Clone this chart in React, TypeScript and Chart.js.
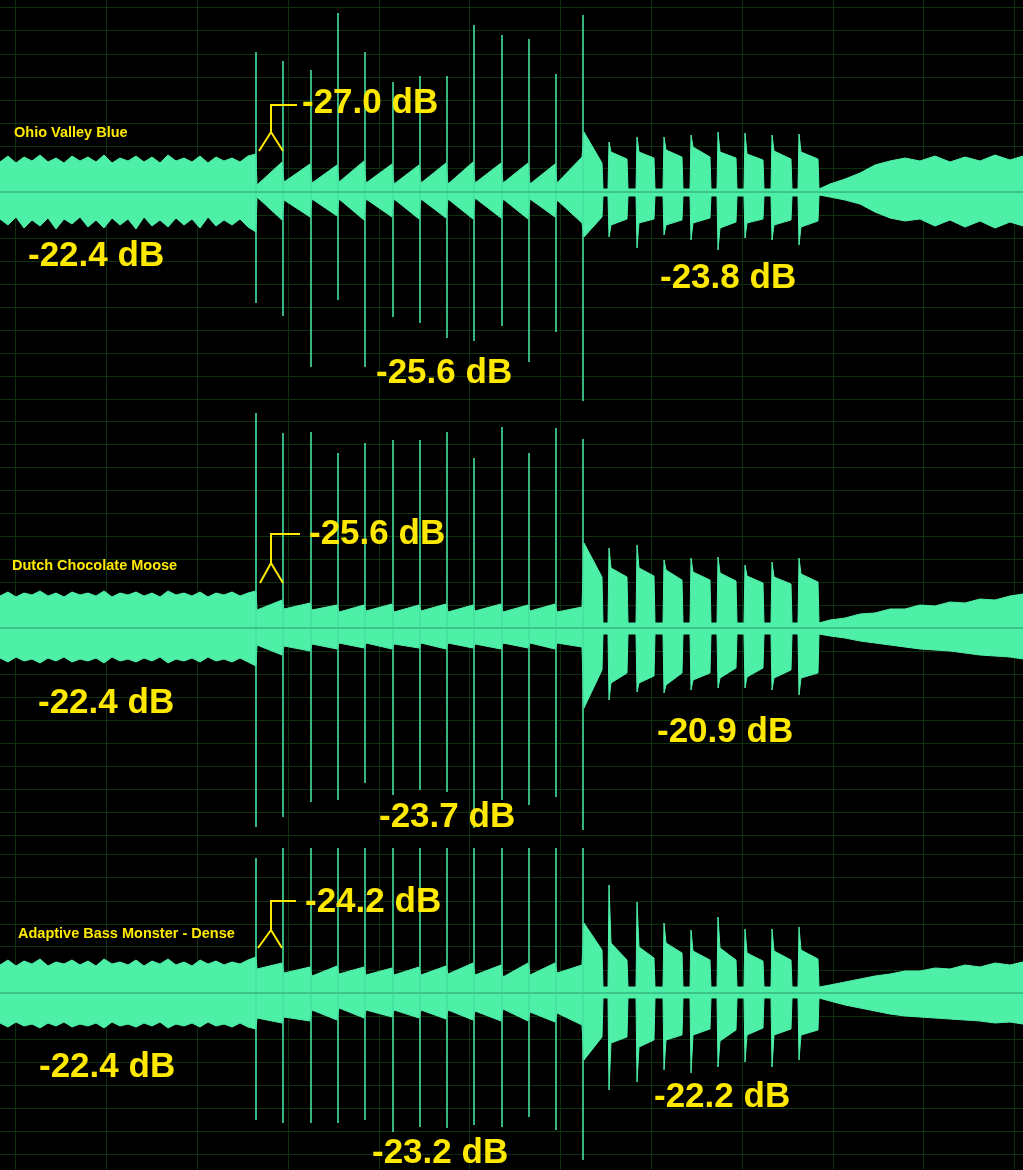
import { useEffect, useRef } from "react";
import { Chart, registerables } from "chart.js";

Chart.register(...registerables);

// ---------- shared time axis (x = sample position) ----------
const gridX = [15, 106, 197, 288, 379, 469, 560, 651, 742, 833, 923, 1014];
const ampGridStep = 23;
const introX = [0, 8, 16, 24, 32, 40, 48, 56, 64, 72, 80, 88, 96, 104, 112, 120, 128, 136, 144, 152, 160, 168, 176, 184, 192, 200, 208, 216, 224, 232, 240, 248, 256];
const spikeX = [256, 283, 311, 338, 365, 393, 420, 447, 474, 502, 529, 556, 583];
const tailEndX = 602;
const burstStart = [609, 637, 664, 691, 718, 745, 772, 799];
const burstEnd = [628, 655, 683, 711, 737, 764, 792, 819];
const fadeX = [819, 830, 845, 860, 875, 890, 905, 920, 935, 950, 965, 980, 995, 1010, 1023];

// ---------- Panel 1: Ohio Valley Blue ----------
const p1IntroTop = [30, 36, 29, 35, 31, 37, 30, 34, 29, 36, 31, 35, 30, 37, 29, 34, 31, 36, 30, 35, 29, 37, 31, 34, 30, 36, 29, 35, 31, 34, 30, 36, 38];
const p1IntroBot = [-27, -33, -25, -36, -28, -34, -26, -37, -27, -32, -25, -35, -28, -36, -26, -33, -27, -37, -25, -34, -28, -35, -26, -33, -27, -36, -25, -34, -28, -33, -27, -35, -40];
const p1Spikes = [[140, -111], [131, -124], [122, -175], [179, -108], [140, -175], [110, -125], [116, -131], [116, -146], [167, -149], [157, -134], [153, -170], [118, -140], [177, -210]];
const p1Segments = [[7, 30, -5, -28], [10, 28, -8, -25], [9, 27, -7, -24], [10, 31, -7, -28], [9, 28, -7, -25], [8, 27, -7, -27], [9, 29, -7, -26], [8, 30, -7, -27], [9, 29, -6, -26], [9, 29, -7, -27], [8, 28, -7, -25], [9, 35, -8, -31]];
const p1Tail = [60, 29, -45, -25];
const p1Gap = [3, -4];
const p1Bursts = [[50, 40, 33, -45, -33, -27], [55, 40, 34, -56, -31, -27], [55, 42, 35, -43, -33, -28], [57, 45, 35, -48, -31, -26], [60, 40, 34, -58, -36, -30], [59, 38, 32, -46, -31, -27], [57, 41, 33, -48, -33, -28], [58, 40, 33, -53, -35, -29]];
const p1FadeTop = [3, 8, 13, 19, 27, 31, 34, 31, 36, 30, 35, 31, 37, 32, 36];
const p1FadeBot = [-3, -5, -8, -12, -20, -26, -29, -27, -34, -28, -35, -29, -36, -30, -34];

// ---------- Panel 2: Dutch Chocolate Moose ----------
const p2IntroTop = [32, 36, 31, 35, 33, 37, 32, 35, 31, 36, 33, 35, 32, 37, 31, 35, 33, 36, 32, 35, 31, 37, 33, 35, 32, 36, 31, 35, 33, 36, 32, 35, 37];
const p2IntroBot = [-30, -34, -29, -33, -31, -35, -30, -33, -29, -34, -31, -33, -30, -35, -29, -33, -31, -34, -30, -33, -29, -35, -31, -33, -30, -34, -29, -33, -31, -34, -30, -34, -38];
const p2Spikes = [[215, -199], [195, -189], [196, -174], [175, -172], [185, -155], [188, -167], [188, -162], [196, -164], [170, -200], [201, -172], [175, -177], [200, -169], [189, -202]];
const p2Segments = [[18, 28, -17, -27], [19, 25, -18, -23], [18, 23, -16, -21], [16, 23, -15, -20], [17, 24, -15, -21], [16, 23, -16, -20], [17, 24, -15, -21], [16, 23, -15, -20], [17, 24, -16, -21], [16, 23, -15, -20], [17, 24, -15, -21], [16, 21, -15, -19]];
const p2Tail = [85, 51, -80, -42];
const p2Gap = [5, -6];
const p2Bursts = [[80, 60, 51, -72, -55, -45], [83, 60, 52, -64, -55, -48], [68, 58, 48, -65, -57, -45], [70, 56, 48, -62, -52, -45], [71, 55, 47, -60, -50, -40], [63, 52, 45, -60, -49, -40], [66, 51, 44, -62, -50, -42], [70, 54, 46, -67, -50, -45]];
const p2FadeTop = [5, 8, 10, 14, 15, 19, 19, 23, 22, 26, 25, 29, 28, 32, 34];
const p2FadeBot = [-6, -8, -10, -13, -15, -17, -19, -21, -22, -23, -25, -27, -28, -29, -31];

// ---------- Panel 3: Adaptive Bass Monster - Dense ----------
const p3IntroTop = [28, 33, 27, 32, 29, 34, 27, 31, 29, 33, 28, 32, 27, 34, 29, 31, 28, 33, 27, 32, 29, 34, 28, 31, 27, 33, 29, 32, 28, 31, 29, 33, 36];
const p3IntroBot = [-30, -34, -29, -33, -31, -35, -30, -33, -29, -34, -31, -33, -30, -35, -29, -33, -31, -34, -30, -33, -29, -35, -31, -33, -30, -34, -29, -33, -31, -34, -30, -34, -36];
const p3Spikes = [[135, -127], [150, -130], [150, -130], [150, -130], [150, -127], [150, -139], [150, -134], [150, -135], [150, -132], [150, -134], [150, -124], [150, -137], [150, -167]];
const p3Segments = [[24, 30, -25, -30], [20, 26, -24, -28], [17, 27, -17, -27], [19, 26, -15, -25], [18, 25, -17, -24], [18, 26, -17, -25], [18, 27, -17, -26], [19, 30, -17, -27], [18, 28, -18, -28], [16, 30, -16, -28], [18, 30, -19, -29], [20, 28, -20, -32]];
const p3Tail = [70, 43, -67, -44];
const p3Gap = [6, -5];
const p3Bursts = [[108, 50, 33, -97, -50, -44], [91, 46, 35, -89, -54, -47], [70, 50, 40, -77, -47, -42], [63, 42, 33, -80, -42, -36], [76, 45, 33, -74, -48, -37], [64, 40, 32, -69, -42, -35], [64, 42, 33, -74, -42, -36], [66, 43, 34, -67, -42, -37]];
const p3FadeTop = [6, 8, 11, 14, 17, 19, 22, 22, 25, 24, 28, 26, 30, 28, 31];
const p3FadeBot = [-5, -8, -12, -15, -18, -21, -23, -24, -25, -26, -27, -28, -30, -29, -31];

// bracket annotations (data units): [footLeftX, stemX, footRightX, armEndX, footAmp, joinAmp, armAmp]
const p1Bracket = [259, 271, 283, 297, 41, 60, 87];
const p2Bracket = [260, 271, 283, 300, 45, 65, 94];
const p3Bracket = [258, 271, 282, 296, 45, 63, 92];

type PanelData = {
  introTop: number[]; introBot: number[]; spikes: number[][]; segments: number[][];
  tail: number[]; gap: number[]; bursts: number[][]; fadeTop: number[]; fadeBot: number[];
  bracket: number[];
};

const panels: PanelData[] = [
  { introTop: p1IntroTop, introBot: p1IntroBot, spikes: p1Spikes, segments: p1Segments, tail: p1Tail, gap: p1Gap, bursts: p1Bursts, fadeTop: p1FadeTop, fadeBot: p1FadeBot, bracket: p1Bracket },
  { introTop: p2IntroTop, introBot: p2IntroBot, spikes: p2Spikes, segments: p2Segments, tail: p2Tail, gap: p2Gap, bursts: p2Bursts, fadeTop: p2FadeTop, fadeBot: p2FadeBot, bracket: p2Bracket },
  { introTop: p3IntroTop, introBot: p3IntroBot, spikes: p3Spikes, segments: p3Segments, tail: p3Tail, gap: p3Gap, bursts: p3Bursts, fadeTop: p3FadeTop, fadeBot: p3FadeBot, bracket: p3Bracket },
];

// ---------- layout / style (kept apart from data) ----------
const panelLayout = [
  { top: 0, height: 401, ampMax: 192, ampMin: -209 },
  { top: 401, height: 447, ampMax: 227, ampMin: -220 },
  { top: 848, height: 322, ampMax: 145, ampMin: -177 },
];

const WAVE = "#4ef0a8";
const SPIKE = "#45e29e";
const CENTER = "#3bc58b";
const GRID = "#0f300f";
const YELLOW = "#ffe900";
const FONT = '"Liberation Sans", Arial, Helvetica, sans-serif';

const labels = [
  { text: "Ohio Valley Blue", left: 14, top: 125, small: true },
  { text: "-22.4 dB", left: 28, top: 236 },
  { text: "-27.0 dB", left: 302, top: 83 },
  { text: "-25.6 dB", left: 376, top: 353 },
  { text: "-23.8 dB", left: 660, top: 258 },
  { text: "Dutch Chocolate Moose", left: 12, top: 558, small: true },
  { text: "-22.4 dB", left: 38, top: 683 },
  { text: "-25.6 dB", left: 309, top: 514 },
  { text: "-23.7 dB", left: 379, top: 797 },
  { text: "-20.9 dB", left: 657, top: 712 },
  { text: "Adaptive Bass Monster - Dense", left: 18, top: 926, small: true },
  { text: "-22.4 dB", left: 39, top: 1047 },
  { text: "-24.2 dB", left: 305, top: 882 },
  { text: "-23.2 dB", left: 372, top: 1133 },
  { text: "-22.2 dB", left: 654, top: 1077 },
];

type Pt = { x: number; y: number | null };

function envelope(p: PanelData, side: 0 | 1): Pt[] {
  const pts: Pt[] = [];
  const intro = side === 0 ? p.introTop : p.introBot;
  introX.forEach((x, i) => pts.push({ x, y: intro[i] }));
  p.segments.forEach((s, i) => {
    pts.push({ x: spikeX[i] + 1, y: s[side === 0 ? 0 : 2] });
    pts.push({ x: spikeX[i + 1] - 1, y: s[side === 0 ? 1 : 3] });
  });
  const last = spikeX[spikeX.length - 1];
  pts.push({ x: last + 1, y: p.tail[side === 0 ? 0 : 2] });
  pts.push({ x: tailEndX, y: p.tail[side === 0 ? 1 : 3] });
  const g = p.gap[side];
  pts.push({ x: tailEndX + 1, y: g });
  burstStart.forEach((b, i) => {
    const t = p.bursts[i];
    const o = side * 3;
    pts.push({ x: b - 1, y: g });
    pts.push({ x: b, y: t[o] });
    pts.push({ x: b + 2, y: t[o + 1] });
    pts.push({ x: burstEnd[i] - 1, y: t[o + 2] });
    pts.push({ x: burstEnd[i], y: g });
  });
  const fade = side === 0 ? p.fadeTop : p.fadeBot;
  fadeX.forEach((x, i) => pts.push({ x, y: fade[i] }));
  return pts;
}

function spikePoints(p: PanelData): Pt[] {
  const pts: Pt[] = [];
  spikeX.forEach((x, i) => {
    pts.push({ x, y: p.spikes[i][0] }, { x, y: p.spikes[i][1] }, { x, y: null });
  });
  return pts;
}

function WavePanel({ panel, layout }: { panel: PanelData; layout: (typeof panelLayout)[number] }) {
  const ref = useRef<HTMLCanvasElement>(null);
  useEffect(() => {
    const canvas = ref.current;
    if (!canvas) return;
    const bracketPlugin = {
      id: "bracket",
      afterDatasetsDraw(chart: any) {
        const { ctx, scales } = chart;
        const [fl, st, fr, ae, foot, join, arm] = panel.bracket;
        const X = (v: number) => scales.x.getPixelForValue(v);
        const Y = (v: number) => scales.y.getPixelForValue(v);
        ctx.save();
        ctx.strokeStyle = YELLOW;
        ctx.lineWidth = 2;
        ctx.lineJoin = "miter";
        ctx.beginPath();
        ctx.moveTo(X(fl), Y(foot));
        ctx.lineTo(X(st), Y(join));
        ctx.lineTo(X(fr), Y(foot));
        ctx.moveTo(X(st), Y(join));
        ctx.lineTo(X(st), Y(arm));
        ctx.lineTo(X(ae), Y(arm));
        ctx.stroke();
        ctx.restore();
      },
    };
    const chart = new Chart(canvas, {
      type: "line",
      data: {
        datasets: [
          { data: [{ x: 0, y: 0 }, { x: 1023, y: 0 }], borderColor: CENTER, borderWidth: 2, fill: false, pointRadius: 0 },
          { data: spikePoints(panel), borderColor: SPIKE, borderWidth: 1.6, fill: false, pointRadius: 0, spanGaps: false },
          { data: envelope(panel, 0), borderColor: WAVE, backgroundColor: WAVE, borderWidth: 1, fill: "origin", pointRadius: 0 },
          { data: envelope(panel, 1), borderColor: WAVE, backgroundColor: WAVE, borderWidth: 1, fill: "origin", pointRadius: 0 },
        ] as any,
      },
      options: {
        animation: false,
        responsive: false,
        devicePixelRatio: 1,
        events: [],
        layout: { padding: 0 },
        elements: { point: { radius: 0 }, line: { tension: 0 } },
        plugins: { legend: { display: false }, tooltip: { enabled: false } },
        scales: {
          x: {
            type: "linear",
            min: 0,
            max: 1023,
            ticks: { display: false },
            border: { display: false },
            grid: { color: GRID, lineWidth: 1, drawTicks: false },
            afterBuildTicks: (s: any) => {
              s.ticks = gridX.map((v) => ({ value: v }));
            },
          },
          y: {
            type: "linear",
            min: layout.ampMin,
            max: layout.ampMax,
            ticks: { display: false },
            border: { display: false },
            grid: { color: GRID, lineWidth: 1, drawTicks: false },
            afterBuildTicks: (s: any) => {
              const t: { value: number }[] = [];
              for (let v = Math.ceil(s.min / ampGridStep) * ampGridStep; v <= s.max; v += ampGridStep) t.push({ value: v });
              s.ticks = t;
            },
          },
        },
      } as any,
      plugins: [bracketPlugin],
    });
    return () => chart.destroy();
  }, [panel, layout]);
  return (
    <canvas
      ref={ref}
      width={1023}
      height={layout.height}
      style={{ position: "absolute", left: 0, top: layout.top, width: 1023, height: layout.height, display: "block" }}
    />
  );
}

export default function App() {
  return (
    <div style={{ position: "fixed", left: 0, top: 0, width: 1023, height: 1170, background: "#000", overflow: "hidden" }}>
      {panels.map((p, i) => (
        <WavePanel key={i} panel={p} layout={panelLayout[i]} />
      ))}
      {labels.map((l, i) => (
        <div
          key={i}
          style={{
            position: "absolute",
            left: l.left,
            top: l.top,
            color: YELLOW,
            fontFamily: FONT,
            fontWeight: "bold",
            fontSize: l.small ? 14.5 : 35,
            lineHeight: 1,
            whiteSpace: "nowrap",
          }}
        >
          {l.text}
        </div>
      ))}
    </div>
  );
}
